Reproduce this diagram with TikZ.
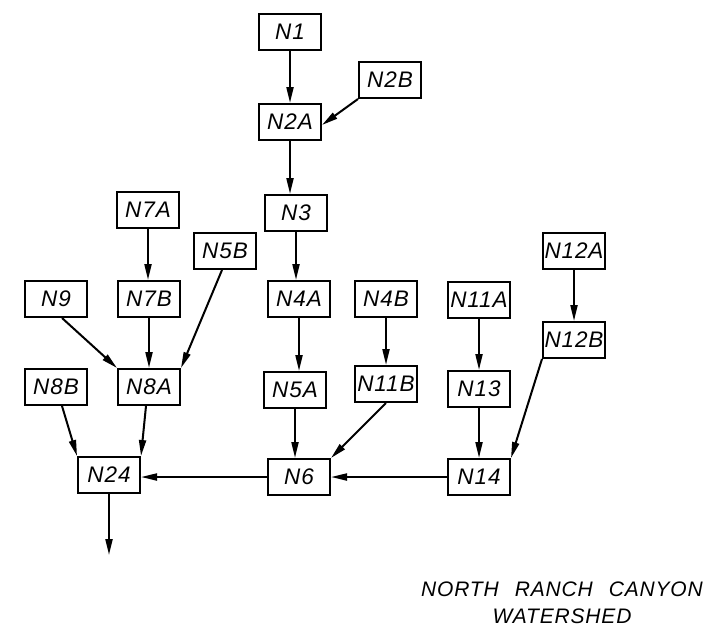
\documentclass[tikz,border=0pt]{standalone}
\usepackage{fontspec}
\setmainfont{Liberation Sans}[LetterSpace=4]
\usetikzlibrary{arrows.meta}
\begin{document}
\begin{tikzpicture}[x=1pt,y=-1pt,
  box/.style={draw,line width=2pt,minimum width=62pt,minimum height=36pt,inner sep=0pt,
    font=\fontsize{22.5}{24}\selectfont\itshape},
  flow/.style={line width=2pt,-{Triangle[length=16pt,width=7pt]}},
  title/.style={font=\fontsize{21}{27}\selectfont\itshape,align=center}]
\useasboundingbox (0,0) rectangle (719,635);
\node[box] (N1) at (290,32) {N1};
\node[box] (N2B) at (390,80) {N2B};
\node[box] (N2A) at (290,122) {N2A};
\node[box] (N3) at (296,213) {N3};
\node[box] (N7A) at (148,210) {N7A};
\node[box] (N5B) at (225,251) {N5B};
\node[box] (N9) at (56,299) {N9};
\node[box] (N7B) at (149,299) {N7B};
\node[box] (N4A) at (299,299) {N4A};
\node[box] (N4B) at (386,299) {N4B};
\node[box] (N11A) at (479,300) {N11A};
\node[box] (N12A) at (574,251) {N12A};
\node[box] (N12B) at (574,340) {N12B};
\node[box] (N8B) at (56,387) {N8B};
\node[box] (N8A) at (149,387) {N8A};
\node[box] (N5A) at (295,390) {N5A};
\node[box] (N11B) at (386,384) {N11B};
\node[box] (N13) at (479,389) {N13};
\node[box] (N6) at (299,477) {N6};
\node[box] (N14) at (479,477) {N14};
\node[box] (N24) at (109,475) {N24};
\coordinate (out) at (109,555);
\draw[flow] (N1.south) -- (N1.south |- N2A.north);
\draw[flow] (N2B.south west) -- ([yshift=-3pt]N2A.east);
\draw[flow] (N2A.south) -- (N2A.south |- N3.north);
\draw[flow] (N3.south) -- (N3.south |- N4A.north);
\draw[flow] (N7A.south) -- (N7A.south |- N7B.north);
\draw[flow] (N7B.south) -- (N7B.south |- N8A.north);
\draw[flow] ([xshift=6pt]N9.south) -- (N8A.north west);
\draw[flow] ([xshift=-3pt]N5B.south) -- (N8A.north east);
\draw[flow] ([xshift=6pt]N8B.south) -- (N24.north west);
\draw[flow] ([xshift=-3pt]N8A.south) -- (N24.north east);
\draw[flow] (N6.west) -- (N6.west -| N24.east);
\draw[flow] (N24.south) -- (out);
\draw[flow] (N4A.south) -- (N4A.south |- N5A.north);
\draw[flow] (N5A.south) -- (N5A.south |- N6.north);
\draw[flow] (N4B.south) -- (N4B.south |- N11B.north);
\draw[flow] (N11B.south) -- (N6.north east);
\draw[flow] (N11A.south) -- (N11A.south |- N13.north);
\draw[flow] (N13.south) -- (N13.south |- N14.north);
\draw[flow] (N12A.south) -- (N12A.south |- N12B.north);
\draw[flow] (N12B.south west) -- (N14.north east);
\draw[flow] (N14.west) -- (N6.east);
\node[title] (T) at (562,603) {NORTH\hspace{16pt}RANCH\hspace{16pt}CANYON\\WATERSHED};
\end{tikzpicture}
\end{document}
